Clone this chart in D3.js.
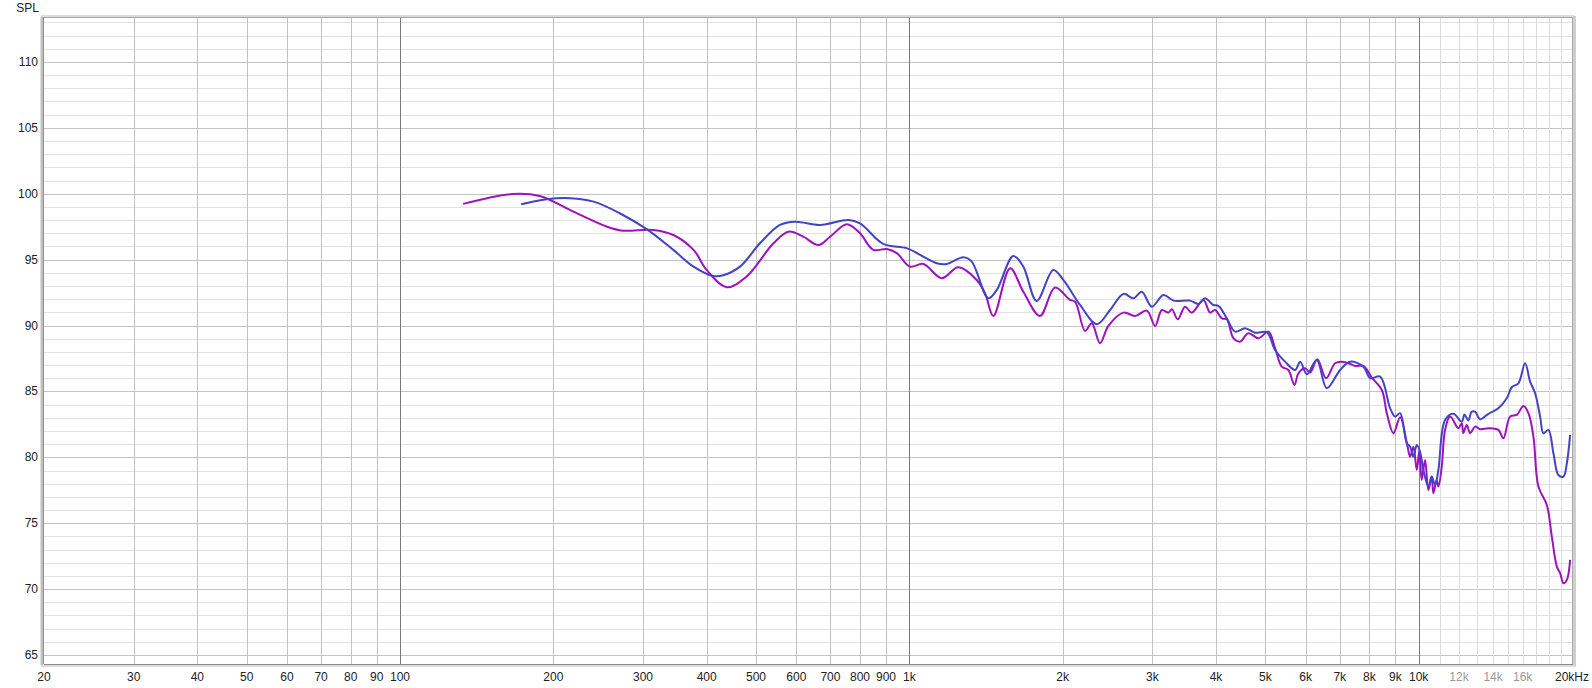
<!DOCTYPE html>
<html>
<head>
<meta charset="utf-8">
<script src="https://cdn.jsdelivr.net/npm/d3@7"></script>
<style>
  html, body { margin: 0; padding: 0; background: #ffffff; }
  svg { display: block; }
  text { font-family: "Liberation Sans", Arial, sans-serif; font-size: 12px; }
</style>
</head>
<body>
<svg id="chart" width="1592" height="688"></svg>
<script>
// ---------- DATA ----------
const yAxisTitle = "SPL";
const yTickValues = [65, 70, 75, 80, 85, 90, 95, 100, 105, 110];
const xTickValues = [20, 30, 40, 50, 60, 70, 80, 90, 100, 200, 300, 400, 500, 600, 700, 800, 900, 1000, 2000, 3000, 4000, 5000, 6000, 7000, 8000, 9000, 10000, 12000, 14000, 16000, 20000];
const xTickLabels = ["20", "30", "40", "50", "60", "70", "80", "90", "100", "200", "300", "400", "500", "600", "700", "800", "900", "1k", "2k", "3k", "4k", "5k", "6k", "7k", "8k", "9k", "10k", "12k", "14k", "16k", "20kHz"];
const xTickFaded = [12000, 14000, 16000];

// Purple series (frequency Hz, SPL dB)
const purpleFreq = [133, 166, 188, 219, 255, 274, 314, 344, 377, 400, 438, 479, 541, 579, 619, 663, 699, 754, 800, 850, 903, 945, 1003,
  1066, 1158, 1248, 1356, 1408, 1462, 1577, 1674, 1805, 1932, 2068, 2116, 2213, 2281, 2368, 2459, 2632, 2776, 2926, 3038, 3131, 3226, 3277, 3365, 3478, 3585, 3778,
  3895, 3984, 4107, 4200, 4328, 4460, 4630, 4846, 5070, 5224, 5386, 5548, 5702, 5807, 5984, 6120, 6325, 6579, 6853, 7063, 7278, 7503, 7790, 8091, 8466, 8659, 8922, 9196,
  9479, 9622, 9766, 9914, 10034, 10138, 10293, 10448, 10606, 10688, 10848, 10932, 11100,
  11267, 11525, 11967, 12152, 12234, 12430, 12618, 12906, 13198, 13703, 14337, 14667, 15118, 15584, 16054, 16424, 16800, 17183, 17848, 18257, 18674, 18956, 19242, 19540, 19830];
const purpleSPL = [99.23, 99.98, 99.83, 98.64, 97.50, 97.20, 97.25, 96.87, 95.74, 94.22, 92.91, 93.71, 96.24, 97.12, 96.74, 96.11, 96.74, 97.69, 97.00, 95.74, 95.81, 95.49, 94.47,
  94.67, 93.59, 94.42, 93.46, 92.45, 90.73, 94.35, 92.57, 90.73, 92.88, 91.94, 91.81, 89.59, 90.17, 88.66, 89.97, 90.98, 90.73, 91.13, 89.97, 91.18, 90.98, 91.24, 90.48, 91.43, 90.98, 91.94,
  90.98, 91.18, 90.55, 90.48, 89.04, 88.78, 89.42, 89.04, 89.54, 88.28, 86.88, 86.63, 85.49, 86.38, 86.76, 86.43, 87.44, 86.00, 87.14, 87.26, 87.14, 86.93, 86.93, 86.05, 85.11, 83.35, 81.83, 83.04,
  81.07, 80.05, 80.81, 79.04, 80.56, 78.29, 79.80, 77.52, 78.54, 77.27, 78.29, 77.78, 79.29,
  82.08, 83.09, 82.21, 82.59, 81.83, 82.46, 81.83, 82.33, 82.13, 82.21, 82.08, 81.45, 83.09, 83.22, 83.90, 83.35, 81.57, 77.78, 76.39, 73.98, 71.71, 71.21, 70.45, 70.70, 72.22];

// Blue series (frequency Hz, SPL dB)
const blueFreq = [173, 194, 216, 240, 270, 305, 344, 377, 412, 431, 465, 509, 557, 597, 668, 759, 800, 889, 988, 1050,
  1132, 1184, 1277, 1326, 1429, 1485, 1600, 1674, 1778, 1917, 2006, 2164, 2334, 2478, 2632, 2754, 2860, 2993, 3154, 3300, 3558, 3693, 3806, 3953, 4044,
  4200, 4360, 4563, 4772, 5033, 5224, 5467, 5720, 5853, 6032, 6308, 6600, 7011, 7334, 7790, 8030, 8402, 8790, 8990, 9196,
  9479, 9622, 9766, 9914, 10064, 10214, 10448, 10606, 10768, 10932,
  11267, 11698, 12152, 12300, 12519, 12700, 12906, 13198, 13703, 14337, 14892, 15232, 15696, 16179, 16551, 16929, 17315, 17577, 17980, 18389, 18807, 19242, 19540, 19830];
const blueSPL = [99.20, 99.58, 99.66, 99.40, 98.52, 97.31, 95.74, 94.47, 93.76, 93.82, 94.47, 96.24, 97.63, 97.88, 97.63, 98.01, 97.76, 96.19, 95.87, 95.36,
  94.73, 94.67, 95.18, 94.85, 92.07, 92.70, 95.28, 94.47, 91.87, 94.22, 93.46, 91.56, 90.10, 91.18, 92.40, 92.07, 92.57, 91.43, 92.32, 91.89, 91.89, 91.64, 92.07, 91.56, 91.49,
  90.55, 89.54, 89.80, 89.46, 89.49, 88.15, 87.26, 86.63, 87.26, 86.30, 87.39, 85.24, 86.63, 87.26, 86.88, 86.00, 86.12, 83.72, 83.09, 83.35,
  81.07, 80.81, 80.05, 80.94, 80.41, 79.04, 77.78, 78.54, 77.91, 79.04,
  82.84, 83.30, 82.71, 83.25, 82.80, 83.45, 83.47, 82.89, 83.30, 83.72, 84.48, 85.32, 85.62, 87.14, 85.74, 84.86, 83.09, 81.83, 82.08, 80.31, 78.66, 78.54, 79.55, 81.70];

// ---------- LAYOUT ----------
const svg = d3.select("#chart");
const plot = { left: 44, right: 1572, top: 17, bottom: 664 };

const x = d3.scaleLog().domain([20, 20000]).range([plot.left, plot.right]);
const y = d3.scaleLinear().domain([64.32, 113.41]).range([plot.bottom, plot.top]);

svg.append("rect").attr("width", 1592).attr("height", 688).attr("fill", "#ffffff");

// horizontal grid
const g = svg.append("g");
const dbLines = d3.range(65, 114, 1);
g.selectAll("line.hg").data(dbLines).enter().append("line")
  .attr("x1", plot.left).attr("x2", plot.right)
  .attr("y1", d => Math.round(y(d)) + 0.5).attr("y2", d => Math.round(y(d)) + 0.5)
  .attr("stroke", d => d % 5 === 0 ? "#c4c4c4" : "#e2e2e2")
  .attr("stroke-width", 1);

// vertical grid
const fLines = [].concat(
  d3.range(30, 100, 10),
  d3.range(100, 1000, 100),
  d3.range(1000, 10000, 1000),
  d3.range(10000, 20000, 1000)
);
const fColor = d => {
  if (d === 100 || d === 1000 || d === 10000) return "#7a7a7a";
  if (d > 10000) return "#dcdcdc";
  return "#c2c2c2";
};
g.selectAll("line.vg").data(fLines).enter().append("line")
  .attr("x1", d => Math.round(x(d)) + 0.5).attr("x2", d => Math.round(x(d)) + 0.5)
  .attr("y1", plot.top).attr("y2", plot.bottom)
  .attr("stroke", fColor).attr("stroke-width", 1);

// curves
const line = d3.line()
  .x(d => x(d[0]))
  .y(d => y(d[1]))
  .curve(d3.curveCatmullRom.alpha(0.5));

svg.append("clipPath").attr("id", "clip").append("rect")
  .attr("x", plot.left).attr("y", plot.top)
  .attr("width", plot.right - plot.left).attr("height", plot.bottom - plot.top);

const purpleData = purpleFreq.map((f, i) => [f, purpleSPL[i]]);
const blueData = blueFreq.map((f, i) => [f, blueSPL[i]]);

svg.append("path").datum(purpleData)
  .attr("clip-path", "url(#clip)")
  .attr("d", line).attr("fill", "none")
  .attr("stroke", "#9d12bd").attr("stroke-width", 2).attr("stroke-linejoin", "round");

svg.append("path").datum(blueData)
  .attr("clip-path", "url(#clip)")
  .attr("d", line).attr("fill", "none")
  .attr("stroke", "#4343c6").attr("stroke-width", 2).attr("stroke-linejoin", "round");

// frame with shadowed edges
svg.append("line").attr("x1", plot.left - 2).attr("x2", plot.left - 2).attr("y1", plot.top).attr("y2", plot.bottom + 1)
  .attr("stroke", "#c0c0c0").attr("stroke-width", 3);
svg.append("line").attr("x1", plot.left - 0.5).attr("x2", plot.left - 0.5).attr("y1", plot.top).attr("y2", plot.bottom)
  .attr("stroke", "#8e8e8e").attr("stroke-width", 1);
svg.append("line").attr("x1", plot.left - 3).attr("x2", plot.right + 2).attr("y1", plot.top - 1).attr("y2", plot.top - 1)
  .attr("stroke", "#dadada").attr("stroke-width", 2);
svg.append("line").attr("x1", plot.left).attr("x2", plot.right).attr("y1", plot.top + 0.5).attr("y2", plot.top + 0.5)
  .attr("stroke", "#a8a8a8").attr("stroke-width", 1);
svg.append("line").attr("x1", plot.right + 0.5).attr("x2", plot.right + 0.5).attr("y1", plot.top).attr("y2", plot.bottom)
  .attr("stroke", "#a8a8a8").attr("stroke-width", 1);
svg.append("line").attr("x1", plot.right + 2.5).attr("x2", plot.right + 2.5).attr("y1", plot.top - 1).attr("y2", plot.bottom + 2)
  .attr("stroke", "#cfcfcf").attr("stroke-width", 3);
svg.append("line").attr("x1", plot.left).attr("x2", plot.right + 1).attr("y1", plot.bottom + 0.5).attr("y2", plot.bottom + 0.5)
  .attr("stroke", "#8a8a8a").attr("stroke-width", 1);
svg.append("line").attr("x1", plot.left - 3).attr("x2", plot.right + 4).attr("y1", plot.bottom + 2).attr("y2", plot.bottom + 2)
  .attr("stroke", "#dcdcdc").attr("stroke-width", 2);

// y labels
svg.append("text").attr("x", 39).attr("y", 12).attr("text-anchor", "end")
  .attr("fill", "#222").text(yAxisTitle);
svg.selectAll("text.yl").data(yTickValues).enter().append("text")
  .attr("x", 38).attr("y", d => y(d) + 4).attr("text-anchor", "end")
  .attr("fill", "#222").text(d => d);

// x labels
svg.selectAll("text.xl").data(xTickValues).enter().append("text")
  .attr("x", d => x(d)).attr("y", 681).attr("text-anchor", "middle")
  .attr("fill", d => xTickFaded.includes(d) ? "#9a9a9a" : "#222")
  .text((d, i) => xTickLabels[i]);
</script>
</body>
</html>
